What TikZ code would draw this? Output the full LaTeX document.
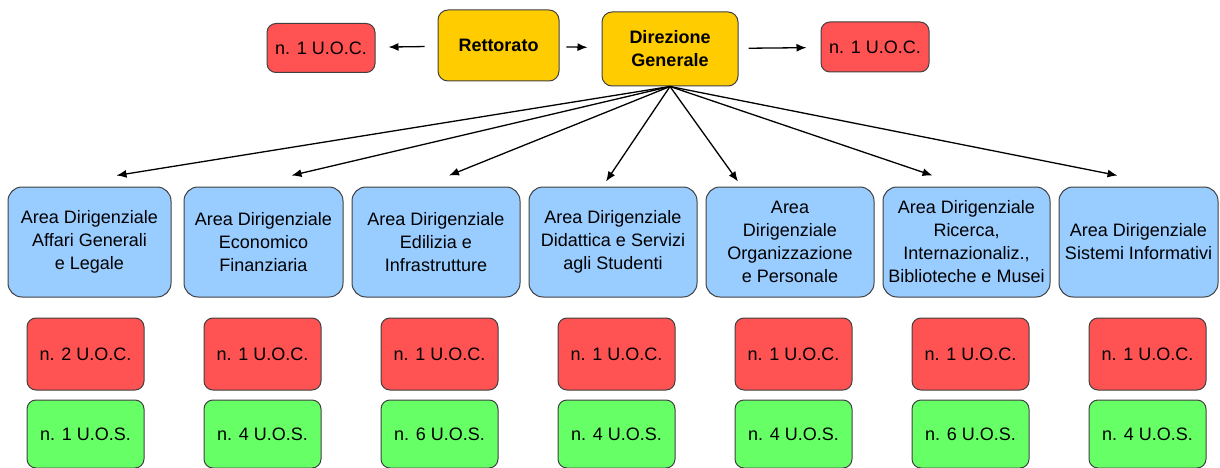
\documentclass[tikz,border=0pt]{standalone}
\usepackage{fontspec}
\setmainfont{Liberation Sans}
\usetikzlibrary{arrows.meta, positioning}
\definecolor{uocred}{HTML}{FF5252}
\definecolor{topyellow}{HTML}{FFCC00}
\definecolor{areablue}{HTML}{99CCFF}
\definecolor{uosgreen}{HTML}{66FF66}

\begin{document}
\begin{tikzpicture}[x=1pt, y=-1pt,
    boxfont/.style={font=\fontsize{18}{23}\selectfont},
    areanode/.style={boxfont, draw=black!75, line width=1pt, fill=areablue, rounded corners=14pt, minimum height=110pt, align=center, inner sep=1pt},
    uocnode/.style={boxfont, draw=black!75, line width=1pt, fill=uocred, rounded corners=9pt, minimum width=117pt, minimum height=72pt},
    uosnode/.style={uocnode, fill=uosgreen, minimum height=68pt},
    topnode/.style={boxfont, draw=black!75, line width=1pt, fill=topyellow, rounded corners=10pt, align=center, font=\fontsize{18}{23}\selectfont\bfseries},
    link/.style={-{Latex[length=10pt, width=8pt]}, line width=1.3pt}]
        \useasboundingbox (0,0) rectangle (1220,468);

        % top row
        \node[topnode, minimum width=121pt, minimum height=71pt] (rett) at (498.5,45.5) {Rettorato};
        \node[topnode, minimum width=136pt, minimum height=74pt] (dir) at (670,49) {Direzione\\Generale};
        \node[uocnode, minimum width=108pt, minimum height=49pt] (uocL) at (321,48) {n. 1 U.O.C.};
        \node[uocnode, minimum width=108pt, minimum height=50pt] (uocR) at (875,47) {n. 1 U.O.C.};

        \draw[link, shorten <=13pt, shorten >=13pt] (rett) -- (uocL);
        \draw[link, shorten <=7pt, shorten >=14pt] (rett) -- (dir);
        \draw[link, shorten <=10pt, shorten >=14pt] (dir) -- (uocR);

        % aree dirigenziali
        \node[areanode, minimum width=163pt] (a1) at (89.5,242) {Area Dirigenziale\\Affari Generali\\e Legale};
        \node[areanode, minimum width=159pt] (a2) [right=12pt of a1] {Area Dirigenziale\\Economico\\Finanziaria};
        \node[areanode, minimum width=168pt] (a3) [right=8pt of a2] {Area Dirigenziale\\Edilizia e\\Infrastrutture};
        \node[areanode, minimum width=168pt] (a4) [right=8pt of a3] {Area Dirigenziale\\Didattica e Servizi\\agli Studenti};
        \node[areanode, minimum width=168pt] (a5) [right=8pt of a4] {Area\\Dirigenziale\\Organizzazione\\e Personale};
        \node[areanode, minimum width=167pt] (a6) [right=8pt of a5] {Area Dirigenziale\\Ricerca,\\Internazionaliz.,\\Biblioteche e Musei};
        \node[areanode, minimum width=159pt] (a7) [right=8pt of a6] {Area Dirigenziale\\Sistemi Informativi};

        \foreach \i/\dx/\dy in {1/27/11, 2/28/11, 3/13/11, 4/-7/5, 5/-52/5, 6/-34/11, 7/-21/11}
            \draw[link] (dir.south) -- ([xshift=\dx pt, yshift=\dy pt]a\i.north);

        % U.O.C. and U.O.S.
        \node[uocnode] (c1) at (85.5,354) {n. 2 U.O.C.};
        \node[uocnode] (c2) [right=59pt of c1] {n. 1 U.O.C.};
        \node[uocnode] (c3) [right=59pt of c2] {n. 1 U.O.C.};
        \node[uocnode] (c4) [right=59pt of c3] {n. 1 U.O.C.};
        \node[uocnode] (c5) [right=59pt of c4] {n. 1 U.O.C.};
        \node[uocnode] (c6) [right=59pt of c5] {n. 1 U.O.C.};
        \node[uocnode] (c7) [right=59pt of c6] {n. 1 U.O.C.};

        \node[uosnode] (s1) [below=9pt of c1] {n. 1 U.O.S.};
        \node[uosnode] (s2) [below=9pt of c2] {n. 4 U.O.S.};
        \node[uosnode] (s3) [below=9pt of c3] {n. 6 U.O.S.};
        \node[uosnode] (s4) [below=9pt of c4] {n. 4 U.O.S.};
        \node[uosnode] (s5) [below=9pt of c5] {n. 4 U.O.S.};
        \node[uosnode] (s6) [below=9pt of c6] {n. 6 U.O.S.};
        \node[uosnode] (s7) [below=9pt of c7] {n. 4 U.O.S.};
    \end{tikzpicture}
\end{document}
